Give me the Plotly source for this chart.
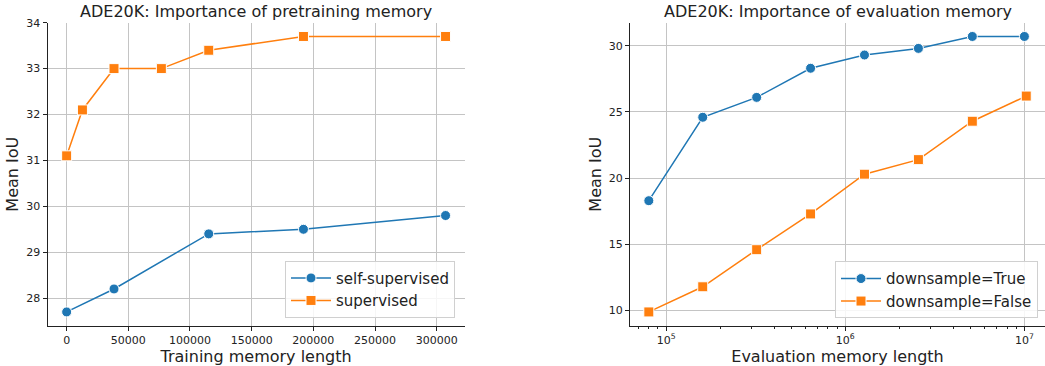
import plotly.graph_objects as go

# ---- data ----
train_mem_selfsup = [0, 38400, 115200, 192000, 307200]
miou_selfsup = [27.7, 28.2, 29.4, 29.5, 29.8]

train_mem_sup = [0, 12800, 38400, 76800, 115200, 192000, 307200]
miou_sup = [31.1, 32.1, 33.0, 33.0, 33.4, 33.7, 33.7]

eval_mem_ds_true = [80000, 160000, 320000, 640000, 1280000, 2560000, 5120000, 10000000]
miou_ds_true = [18.3, 24.6, 26.1, 28.3, 29.3, 29.8, 30.7, 30.7]

eval_mem_ds_false = [80000, 160000, 320000, 640000, 1280000, 2560000, 5120000, 10240000]
miou_ds_false = [9.9, 11.8, 14.6, 17.3, 20.3, 21.4, 24.3, 26.2]

left_xticks = [0, 50000, 100000, 150000, 200000, 250000, 300000]
left_yticks = [28, 29, 30, 31, 32, 33, 34]
right_xticks = [1e5, 1e6, 1e7]
right_xticklabels = ["10<sup>5</sup>", "10<sup>6</sup>", "10<sup>7</sup>"]
right_yticks = [10, 15, 20, 25, 30]

BLUE = "#1f77b4"
ORANGE = "#ff7f0e"
FONT = "DejaVu Sans"
W, H = 1045, 366

fig = go.Figure()


def add_series(x, y, name, color, symbol, xa, ya, legend):
    fig.add_trace(go.Scatter(
        x=x, y=y, name=name, mode="lines+markers",
        line=dict(color=color, width=1.5),
        marker=dict(color=color, symbol=symbol, size=10,
                    line=dict(color="white", width=1)),
        xaxis=xa, yaxis=ya, legend=legend,
    ))


add_series(train_mem_selfsup, miou_selfsup, "self-supervised", BLUE, "circle", "x", "y", "legend")
add_series(train_mem_sup, miou_sup, "supervised", ORANGE, "square", "x", "y", "legend")
add_series(eval_mem_ds_true, miou_ds_true, "downsample=True", BLUE, "circle", "x2", "y2", "legend2")
add_series(eval_mem_ds_false, miou_ds_false, "downsample=False", ORANGE, "square", "x2", "y2", "legend2")

# plot-area bounds in pixels
L1, R1 = 47.7, 464.5
L2, R2 = 630.0, 1045.0
TOP, BOT = 22.7, 325.7

ydom = [(H - BOT) / H, (H - TOP) / H]

axis_common = dict(
    showgrid=True, gridcolor="#c4c4c4", gridwidth=1,
    showline=True, linecolor="#222222", linewidth=1.3,
    ticks="outside", ticklen=4, tickwidth=1, tickcolor="#222222",
    tickfont=dict(family=FONT, size=11, color="#222222"),
    zeroline=False, automargin=False,
)
label_font = dict(family=FONT, size=16, color="#222222")


def xtitle(text):
    return dict(text=text, font=label_font, standoff=6)


def ytitle(text):
    return dict(text=text, font=label_font, standoff=3)


# minor ticks of the log axis: 2..9 within each decade
log_minor = [m * 10 ** e for e in (4, 5, 6) for m in range(2, 10)]

# left panel range with 5% padding
lx_pad = 0.05 * (max(train_mem_sup) - min(train_mem_sup))
fig.update_layout(
    xaxis=dict(domain=[L1 / W, R1 / W], anchor="y",
               range=[min(train_mem_sup) - lx_pad, max(train_mem_sup) + lx_pad],
               tickvals=left_xticks, tickformat="d",
               title=xtitle("Training memory length"), **axis_common),
    yaxis=dict(domain=ydom, anchor="x", range=[27.4, 34.0],
               tickvals=left_yticks, title=ytitle("Mean IoU"), **axis_common),
    xaxis2=dict(domain=[L2 / W, R2 / W], anchor="y2", type="log",
                range=[4.798, 7.115],
                tickvals=right_xticks, ticktext=right_xticklabels,
                minor=dict(tickvals=log_minor, ticks="outside", ticklen=2.5,
                           tickcolor="#222222", showgrid=False),
                title=xtitle("Evaluation memory length"), **axis_common),
    yaxis2=dict(domain=ydom, anchor="x2", range=[8.86, 31.74],
                tickvals=right_yticks, title=ytitle("Mean IoU"), **axis_common),
)

legend_common = dict(
    bgcolor="rgba(255,255,255,0.85)", bordercolor="#d0d0d0", borderwidth=1,
    font=dict(family=FONT, size=15, color="#222222"),
    xanchor="right", yanchor="bottom", tracegroupgap=0, itemwidth=40,
)
fig.update_layout(
    legend=dict(x=455 / W, y=(H - 317.7) / H, **legend_common),
    legend2=dict(x=1038 / W, y=(H - 318.3) / H, **legend_common),
)

# panel titles
for text, cx in (("ADE20K: Importance of pretraining memory", (L1 + R1) / 2),
                 ("ADE20K: Importance of evaluation memory", (L2 + R2) / 2)):
    fig.add_annotation(
        text=text, x=cx / W, y=1 - 11 / H, xref="paper", yref="paper",
        xanchor="center", yanchor="middle", showarrow=False,
        font=dict(family=FONT, size=16, color="#222222"),
    )

fig.update_layout(
    width=W, height=H, margin=dict(l=0, r=0, t=0, b=0),
    paper_bgcolor="white", plot_bgcolor="white",
    showlegend=True,
)

fig.write_html("out.html")
